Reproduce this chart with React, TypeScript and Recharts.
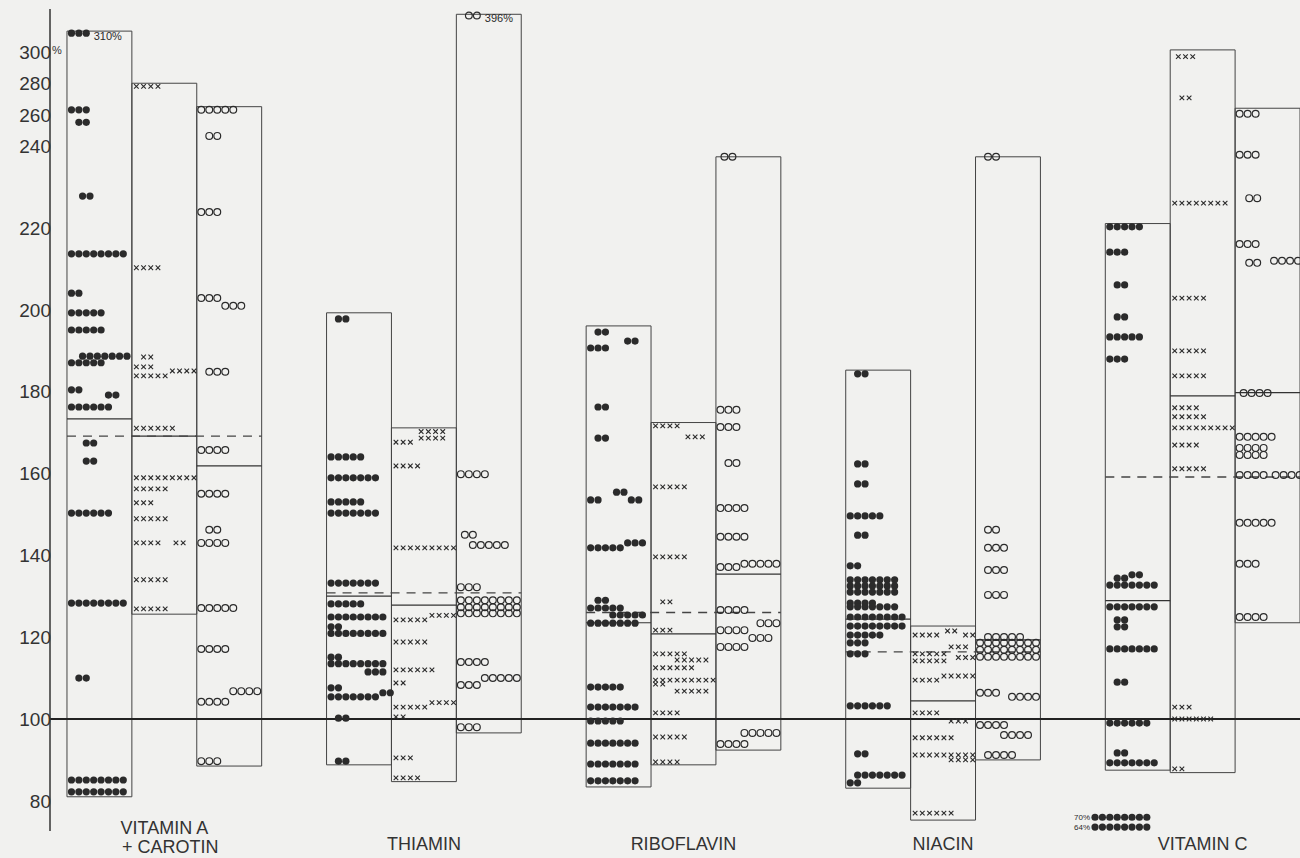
import React from 'react';
import { ComposedChart, XAxis, YAxis, Scatter, ReferenceArea, ReferenceLine } from 'recharts';

// nutrient groups, each with three columns (● , × , ○)
const GROUPS = ['VITAMIN A|+ CAROTIN', 'THIAMIN', 'RIBOFLAVIN', 'NIACIN', 'VITAMIN C'];
const Y_TICKS = [80, 100, 120, 140, 160, 180, 200, 220, 240, 260, 280, 300];

// box range per column [●, ×, ○]
const BOX_MIN = [[81, 125.6, 88.5], [88.8, 84.7, 96.6], [83.4, 88.8, 92.4], [83.1, 75.3, 90], [87.5, 86.9, 123.5]];
const BOX_MAX = [[310, 280, 265], [199.2, 171.1, 396], [196, 172.4, 237.3], [185.2, 122.7, 237.3], [221, 301, 264]];
const COL_MEAN = [[173.3, 169.1, 161.8], [130, 127.8, null], [123.5, 120.8, 135.4], [124.4, 104.4, 119.3], [128.9, 178.9, 179.7]];
const GROUP_MEAN = [169.1, 130.8, 126, 116.4, 159.1];

// rows of marks: [value %, count, indent (in marks), note]
const VITA_DOTS = [[309, 3, 0, '310%'], [263, 3], [255, 2, 1], [227.7, 2, 1.5], [213.6, 8], [204, 2], [199.2, 5], [195, 5], [188.6, 7, 1.5], [187, 5], [180.4, 2], [179.1, 2, 5], [176.2, 6], [167.4, 2, 2], [163, 2, 2], [150.3, 6], [128.3, 8], [110, 2, 1], [85.1, 8], [82.2, 8]];
const VITA_CROSSES = [[278, 4], [210.2, 4], [188.4, 2, 1], [186, 3], [185, 4, 5], [183.8, 5], [171, 6], [158.9, 9], [156.2, 5], [152.8, 3], [148.9, 5], [143, 4], [143, 2, 5.5], [134, 5], [126.9, 5]];
const VITA_CIRCLES = [[263, 5], [246.3, 2, 1], [223.8, 3], [202.8, 3], [200.9, 3, 3], [184.8, 3, 1], [165.7, 4], [155, 4], [146.2, 2, 1], [143, 4], [127.1, 5], [117.1, 4], [106.8, 4, 4], [104.2, 4], [89.7, 3]];

const THIA_DOTS = [[197.7, 2, 1], [164, 5], [158.9, 7], [153, 5], [150.3, 7], [133.2, 7], [128.1, 5], [124.9, 8], [122.5, 2], [120.9, 8], [115.1, 2], [113.5, 8], [111.5, 3, 5], [107.6, 2], [106.4, 2, 7], [105.4, 7], [100.2, 2, 1], [89.7, 2, 1]];
const THIA_CROSSES = [[170.2, 4, 3.5], [168.6, 4, 3.5], [167.6, 3], [161.8, 4], [141.8, 9], [125.3, 4, 5], [124.2, 5], [118.8, 5], [112, 6], [108.8, 2], [104, 4, 5], [102.9, 5], [100.5, 2], [90.5, 3], [85.6, 4]];
const THIA_CIRCLES = [[390, 2, 1, '396%'], [159.8, 4], [145, 2, 0.5], [142.5, 5, 1.5], [132.2, 3], [129, 8], [127.3, 8], [125.8, 8], [113.9, 4], [110, 5, 3], [108.3, 3], [98, 3]];

const RIBO_DOTS = [[194.5, 2, 1], [192.3, 2, 5], [190.6, 3], [176.2, 2, 1], [168.6, 2, 1], [155.4, 2, 3.5], [153.5, 2], [153.5, 2, 5.5], [143, 3, 5], [141.8, 5], [129, 2, 1], [127.1, 5], [125.4, 5, 3], [123.4, 7], [107.8, 5], [102.9, 7], [99.5, 5], [94.1, 7], [89, 7], [84.9, 7]];
const RIBO_CROSSES = [[171.6, 4], [168.9, 3, 4.5], [156.7, 5], [139.6, 5], [128.6, 2, 1], [121.7, 3], [115.9, 5], [114.4, 5, 3], [112.5, 6], [109.5, 9], [108.5, 2], [106.8, 5, 3], [101.5, 4], [95.6, 5], [89.5, 4]];
const RIBO_CIRCLES = [[237.3, 2, 0.5], [175.5, 3], [171.3, 3], [162.5, 2, 1], [151.5, 4], [144.5, 4], [137.9, 5, 3], [137.1, 3], [126.6, 4], [123.4, 3, 5], [121.7, 4], [119.8, 3, 4], [117.6, 4], [96.6, 5, 3], [93.9, 4]];

const NIAC_DOTS = [[184.3, 2, 1], [162.3, 2, 1], [157.4, 2, 1], [149.6, 5], [144.9, 2, 1], [137.4, 2], [134, 7], [132.5, 7], [131, 7], [128.3, 4], [127.4, 7], [124.9, 8], [122.7, 8], [120.5, 5], [118.6, 3], [115.9, 3], [103.2, 6], [91.5, 2, 1], [86.3, 7, 1], [84.4, 2]];
const NIAC_CROSSES = [[121.5, 2, 4.5], [120.5, 4], [120.5, 2, 7], [117.6, 3, 5], [115.9, 5], [115, 3, 6], [114.2, 5], [110.5, 5, 4], [109.5, 4], [101.5, 4], [99.5, 3, 5], [95.4, 6], [91.2, 9], [90, 4, 5], [77, 6]];
const NIAC_CIRCLES = [[237.3, 2, 1], [146.2, 2, 1], [141.8, 3, 1], [136.4, 3, 1], [130.3, 3, 1], [120, 5, 1], [118.6, 8], [116.9, 8], [115.2, 8], [106.4, 3], [105.4, 4, 4], [98.5, 4], [96.1, 4, 3], [91.2, 4, 1]];

const VITC_DOTS = [[220.2, 5], [214, 3], [206, 2, 1], [198.2, 2, 1], [193.3, 5], [187.9, 3], [135.2, 2, 3], [134.4, 2, 1], [132.7, 7], [127.4, 7], [124.2, 2, 1], [122.5, 2, 1], [117.1, 7], [109, 2, 1], [99, 6], [91.7, 2, 1], [89.3, 7], [76, 8, -2, '70%'], [73.6, 8, -2, '64%']];
const VITC_CROSSES = [[297, 3, 0.5], [270.6, 2, 1], [226, 8], [202.8, 5], [189.9, 5], [183.8, 5], [176, 4], [173.8, 5], [171.1, 9], [166.9, 4], [161.1, 5], [102.9, 3], [100, 6], [87.8, 2]];
const VITC_CIRCLES = [[260.5, 3], [237.8, 3], [227.2, 2, 1.2], [216, 3], [211.9, 4, 4.3], [211.4, 2, 1.2], [179.6, 4, 0.5], [168.9, 5], [166.2, 4], [164.5, 4], [159.6, 4], [159.6, 4, 4.5], [147.9, 5], [137.9, 3], [124.9, 4]];

const DOTS = [VITA_DOTS, THIA_DOTS, RIBO_DOTS, NIAC_DOTS, VITC_DOTS];
const CROSSES = [VITA_CROSSES, THIA_CROSSES, RIBO_CROSSES, NIAC_CROSSES, VITC_CROSSES];
const CIRCLES = [VITA_CIRCLES, THIA_CIRCLES, RIBO_CIRCLES, NIAC_CIRCLES, VITC_CIRCLES];

// the axis is compressed above 240 %
const KNOTS = [[240, 240], [300, 262.9], [310, 268], [400, 272.3]];
const t = (v: number) => {
  if (v <= KNOTS[0][0]) return v;
  for (let i = 1; i < KNOTS.length; i++) {
    const [a, ta] = KNOTS[i - 1];
    const [b, tb] = KNOTS[i];
    if (v <= b || i === KNOTS.length - 1) return ta + ((v - a) / (b - a)) * (tb - ta);
  }
  return v;
};

const INK = '#2b2b2b';
const FONT = '"Liberation Sans", Arial, sans-serif';
const STEP: Record<string, number> = { dot: 7.4, cross: 7.2, circle: 8 };

const toPoints = (groups: any[][], col: number) =>
  groups.flatMap((rows, g) =>
    rows.map(([v, n, ind = 0, note]: any) => ({ x: g * 4 + col, y: t(v), n, ind, note }))
  );

const marks = (kind: string) => (props: any) => {
  const { cx, cy, payload } = props;
  if (cx == null || cy == null) return <g />;
  const step = STEP[kind];
  const items = [];
  for (let i = 0; i < payload.n; i++) {
    const x = cx + 4.5 + (payload.ind + i) * step;
    if (kind === 'dot') items.push(<circle key={i} cx={x} cy={cy} r={3.6} fill={INK} />);
    else if (kind === 'circle')
      items.push(<circle key={i} cx={x} cy={cy} r={3.4} fill="none" stroke={INK} strokeWidth={1.2} />);
    else
      items.push(
        <path key={i} d={`M${x - 2.3},${cy - 2.3}L${x + 2.3},${cy + 2.3}M${x - 2.3},${cy + 2.3}L${x + 2.3},${cy - 2.3}`} stroke={INK} strokeWidth={1.1} />
      );
  }
  if (payload.note) {
    const before = payload.ind < 0;
    const nx = before ? cx + 4.5 + payload.ind * step - 5 : cx + 4.5 + (payload.ind + payload.n) * step;
    items.push(
      <text key="note" x={nx} y={cy + (before ? 3 : 7)} fontSize={before ? 8 : 11} textAnchor={before ? 'end' : 'start'} fill={INK} fontFamily={FONT}>
        {payload.note}
      </text>
    );
  }
  return <g>{items}</g>;
};

const YTick = (props: any) => {
  const { x, y, payload } = props;
  const label = Y_TICKS.find((l) => Math.abs(t(l) - payload.value) < 0.01);
  return (
    <g>
      <text x={x + 1} y={y + 7} textAnchor="end" fontSize={19} fill="#333" fontFamily={FONT}>{label}</text>
      {label === 300 && <text x={x + 2} y={y + 2} fontSize={11} fill="#333" fontFamily={FONT}>%</text>}
    </g>
  );
};

const XTick = (props: any) => {
  const { x, y, payload } = props;
  const lines = GROUPS[Math.round((payload.value - 1.5) / 4)].split('|');
  return (
    <g>
      {lines.map((line, i) => (
        <text key={i} x={x + (i ? 6 : 0)} y={y + (lines.length > 1 ? 3 + i * 19 : 19)} textAnchor="middle" fontSize={18} fill="#333" fontFamily={FONT}>
          {line}
        </text>
      ))}
    </g>
  );
};

export default function App() {
  return (
    <div style={{ position: 'fixed', inset: 0, background: '#f1f1ef' }}>
      <div style={{ position: 'absolute', left: 8, top: 8 }}>
        <ComposedChart width={1292} height={850} margin={{ top: 1, right: 0, bottom: 0, left: 0 }}>
          <XAxis
            type="number"
            dataKey="x"
            domain={[-0.2615, 19]}
            allowDataOverflow
            ticks={GROUPS.map((_, g) => g * 4 + 1.5)}
            tick={<XTick />}
            axisLine={false}
            tickLine={false}
            tickSize={0}
            tickMargin={0}
            height={27}
          />
          <YAxis
            type="number"
            dataKey="y"
            domain={[72.64, 273.4]}
            allowDataOverflow
            ticks={Y_TICKS.map(t)}
            tick={<YTick />}
            tickLine={false}
            tickSize={0}
            tickMargin={0}
            width={42}
            axisLine={{ stroke: '#333', strokeWidth: 1.5 }}
          />
          {GROUPS.map((_, g) =>
            [0, 1, 2].map((c) => (
              <ReferenceArea
                key={`box-${g}-${c}`}
                x1={g * 4 + c}
                x2={g * 4 + c + 1}
                y1={t(BOX_MIN[g][c])}
                y2={t(BOX_MAX[g][c])}
                fill="none"
                stroke="#444"
                strokeWidth={1}
                ifOverflow="visible"
              />
            ))
          )}
          {GROUPS.map((_, g) =>
            [0, 1, 2].map((c) =>
              COL_MEAN[g][c] == null ? null : (
                <ReferenceLine
                  key={`mean-${g}-${c}`}
                  segment={[{ x: g * 4 + c, y: t(COL_MEAN[g][c] as number) }, { x: g * 4 + c + 1, y: t(COL_MEAN[g][c] as number) }]}
                  stroke="#333"
                  strokeWidth={1.2}
                  ifOverflow="visible"
                />
              )
            )
          )}
          {GROUP_MEAN.map((m, g) => (
            <ReferenceLine
              key={`gmean-${g}`}
              segment={[{ x: g * 4, y: t(m) }, { x: g * 4 + 3, y: t(m) }]}
              stroke="#444"
              strokeWidth={1.3}
              strokeDasharray="9 7"
              ifOverflow="visible"
            />
          ))}
          <ReferenceLine y={100} stroke="#222" strokeWidth={2} />
          <Scatter data={toPoints(DOTS, 0)} shape={marks('dot')} isAnimationActive={false} />
          <Scatter data={toPoints(CROSSES, 1)} shape={marks('cross')} isAnimationActive={false} />
          <Scatter data={toPoints(CIRCLES, 2)} shape={marks('circle')} isAnimationActive={false} />
        </ComposedChart>
      </div>
    </div>
  );
}
